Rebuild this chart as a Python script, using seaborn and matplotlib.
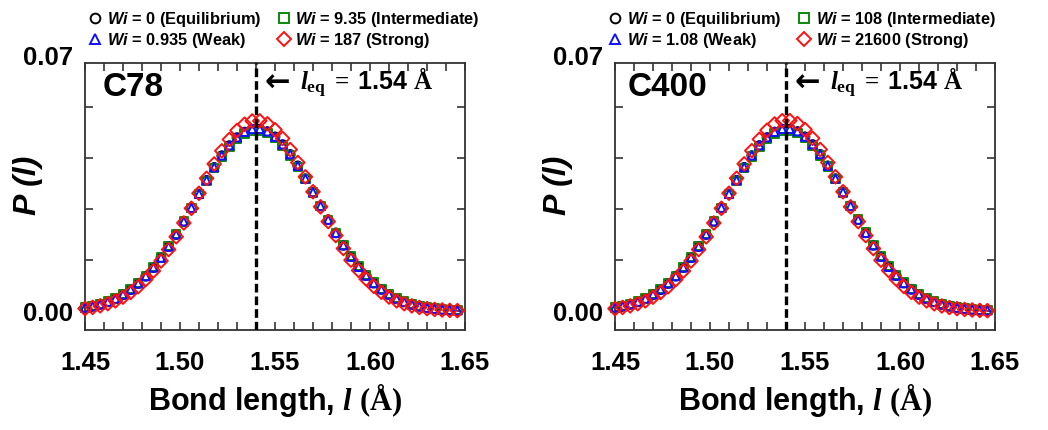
import matplotlib
matplotlib.use("Agg")
import matplotlib.pyplot as plt
import matplotlib.transforms as mtransforms
from matplotlib.lines import Line2D
from matplotlib.ticker import MultipleLocator, FixedLocator
import pandas as pd
import seaborn as sns

# ---------------- data ----------------
bond_length = [1.450, 1.454, 1.458, 1.462, 1.466, 1.470, 1.474, 1.478, 1.482, 1.486,
               1.490, 1.494, 1.498, 1.502, 1.506, 1.510, 1.514, 1.518, 1.522, 1.526,
               1.530, 1.534, 1.538, 1.542, 1.546, 1.550, 1.554, 1.558, 1.562, 1.566,
               1.570, 1.574, 1.578, 1.582, 1.586, 1.590, 1.594, 1.598, 1.602, 1.606,
               1.610, 1.614, 1.618, 1.622, 1.626, 1.630, 1.634, 1.638, 1.642, 1.646]

c78_eq = [0.00093, 0.00132, 0.00184, 0.00252, 0.00339, 0.00450, 0.00588, 0.00756, 0.00957, 0.01193,
          0.01464, 0.01768, 0.02102, 0.02459, 0.02833, 0.03213, 0.03587, 0.03942, 0.04264, 0.04541,
          0.04760, 0.04912, 0.04990, 0.04992, 0.04925, 0.04781, 0.04570, 0.04300, 0.03985, 0.03632,
          0.03262, 0.02884, 0.02508, 0.02146, 0.01806, 0.01495, 0.01217, 0.00975, 0.00769, 0.00597,
          0.00455, 0.00341, 0.00252, 0.00183, 0.00130, 0.00091, 0.00063, 0.00043, 0.00029, 0.00019]
c78_weak = [0.00095, 0.00133, 0.00186, 0.00254, 0.00341, 0.00452, 0.00590, 0.00758, 0.00959, 0.01195,
            0.01466, 0.01770, 0.02104, 0.02462, 0.02836, 0.03217, 0.03592, 0.03948, 0.04271, 0.04549,
            0.04769, 0.04921, 0.04998, 0.05000, 0.04933, 0.04788, 0.04576, 0.04305, 0.03989, 0.03635,
            0.03264, 0.02885, 0.02508, 0.02145, 0.01805, 0.01493, 0.01215, 0.00973, 0.00767, 0.00595,
            0.00453, 0.00339, 0.00250, 0.00182, 0.00129, 0.00090, 0.00062, 0.00042, 0.00028, 0.00019]
c78_mid = [0.00097, 0.00137, 0.00190, 0.00259, 0.00348, 0.00460, 0.00599, 0.00768, 0.00969, 0.01205,
           0.01474, 0.01777, 0.02107, 0.02461, 0.02831, 0.03205, 0.03573, 0.03922, 0.04238, 0.04510,
           0.04725, 0.04874, 0.04950, 0.04952, 0.04886, 0.04745, 0.04538, 0.04273, 0.03963, 0.03617,
           0.03252, 0.02880, 0.02509, 0.02152, 0.01816, 0.01507, 0.01231, 0.00988, 0.00782, 0.00609,
           0.00466, 0.00351, 0.00260, 0.00190, 0.00136, 0.00096, 0.00067, 0.00046, 0.00031, 0.00021]
c78_strong = [0.00069, 0.00101, 0.00144, 0.00203, 0.00281, 0.00382, 0.00511, 0.00671, 0.00868, 0.01102,
              0.01376, 0.01690, 0.02039, 0.02419, 0.02821, 0.03234, 0.03645, 0.04039, 0.04399, 0.04710,
              0.04958, 0.05130, 0.05219, 0.05221, 0.05141, 0.04979, 0.04738, 0.04433, 0.04078, 0.03686,
              0.03276, 0.02862, 0.02457, 0.02073, 0.01718, 0.01398, 0.01118, 0.00879, 0.00678, 0.00515,
              0.00384, 0.00281, 0.00202, 0.00143, 0.00100, 0.00068, 0.00046, 0.00030, 0.00019, 0.00012]

c400_eq = [0.00094, 0.00133, 0.00185, 0.00253, 0.00340, 0.00451, 0.00589, 0.00757, 0.00958, 0.01194,
           0.01465, 0.01769, 0.02103, 0.02460, 0.02834, 0.03214, 0.03589, 0.03944, 0.04266, 0.04543,
           0.04762, 0.04914, 0.04992, 0.04994, 0.04927, 0.04783, 0.04571, 0.04301, 0.03986, 0.03633,
           0.03263, 0.02885, 0.02509, 0.02147, 0.01807, 0.01496, 0.01218, 0.00976, 0.00770, 0.00598,
           0.00456, 0.00342, 0.00253, 0.00184, 0.00131, 0.00092, 0.00064, 0.00044, 0.00030, 0.00020]
c400_weak = [0.00096, 0.00134, 0.00187, 0.00255, 0.00342, 0.00453, 0.00591, 0.00759, 0.00960, 0.01196,
             0.01467, 0.01771, 0.02105, 0.02463, 0.02837, 0.03218, 0.03594, 0.03950, 0.04273, 0.04551,
             0.04771, 0.04923, 0.05000, 0.05002, 0.04935, 0.04790, 0.04578, 0.04306, 0.03990, 0.03636,
             0.03265, 0.02886, 0.02509, 0.02146, 0.01806, 0.01494, 0.01216, 0.00974, 0.00768, 0.00596,
             0.00454, 0.00340, 0.00251, 0.00183, 0.00130, 0.00091, 0.00063, 0.00043, 0.00029, 0.00020]
c400_mid = [0.00098, 0.00138, 0.00191, 0.00260, 0.00349, 0.00461, 0.00600, 0.00769, 0.00970, 0.01206,
            0.01475, 0.01778, 0.02108, 0.02462, 0.02832, 0.03206, 0.03575, 0.03924, 0.04240, 0.04512,
            0.04727, 0.04876, 0.04952, 0.04954, 0.04888, 0.04747, 0.04540, 0.04275, 0.03965, 0.03619,
            0.03254, 0.02882, 0.02511, 0.02153, 0.01817, 0.01508, 0.01232, 0.00989, 0.00783, 0.00610,
            0.00467, 0.00352, 0.00261, 0.00191, 0.00137, 0.00097, 0.00068, 0.00047, 0.00032, 0.00022]
c400_strong = [0.00068, 0.00100, 0.00143, 0.00202, 0.00280, 0.00381, 0.00510, 0.00670, 0.00867, 0.01101,
               0.01375, 0.01689, 0.02038, 0.02418, 0.02821, 0.03235, 0.03647, 0.04042, 0.04403, 0.04715,
               0.04964, 0.05137, 0.05226, 0.05228, 0.05147, 0.04984, 0.04742, 0.04436, 0.04080, 0.03687,
               0.03276, 0.02861, 0.02456, 0.02071, 0.01716, 0.01396, 0.01116, 0.00877, 0.00676, 0.00513,
               0.00382, 0.00279, 0.00200, 0.00141, 0.00098, 0.00067, 0.00045, 0.00029, 0.00018, 0.00011]

regimes = ["Equilibrium", "Weak", "Intermediate", "Strong"]
wi_c78 = ["0", "0.935", "9.35", "187"]
wi_c400 = ["0", "1.08", "108", "21600"]
panel_names = ["C78", "C400"]
l_eq = 1.54

x_major = [1.45, 1.50, 1.55, 1.60, 1.65]
y_ticks = [0.0, 0.014, 0.028, 0.042, 0.056]

# ---------------- style ----------------
sns.set_theme(style="ticks")
plt.rcParams["font.family"] = ["Liberation Sans", "DejaVu Sans"]
plt.rcParams["font.weight"] = "bold"
plt.rcParams["text.color"] = "black"
plt.rcParams["axes.labelcolor"] = "black"
plt.rcParams["xtick.labelcolor"] = "black"
plt.rcParams["ytick.labelcolor"] = "black"
plt.rcParams["mathtext.fontset"] = "custom"
plt.rcParams["mathtext.rm"] = "Liberation Serif"
plt.rcParams["mathtext.it"] = "Liberation Serif:italic:bold"
plt.rcParams["mathtext.bf"] = "Liberation Serif:bold"
plt.rcParams["mathtext.sf"] = "Liberation Sans:bold"
plt.rcParams["mathtext.bfit"] = "Liberation Sans:italic:bold"

colors = {"Equilibrium": "black", "Weak": "#1010ff",
          "Intermediate": "#0a8a0a", "Strong": "#ff1010"}
markers = {"Equilibrium": "o", "Weak": "^", "Intermediate": "s", "Strong": "D"}
sizes = {"Equilibrium": 40, "Weak": 36, "Intermediate": 36, "Strong": 48}
draw_order = ["Equilibrium", "Intermediate", "Weak", "Strong"]
spine_col = "#333333"

fig = plt.figure(figsize=(10.48, 4.30), dpi=100)
W, H = 1048.0, 430.0
axes = [fig.add_axes([85 / W, 1 - 330 / H, 380 / W, 267 / H]),
        fig.add_axes([615 / W, 1 - 330 / H, 380 / W, 267 / H])]

panels = [
    (c78_eq, c78_weak, c78_mid, c78_strong, wi_c78),
    (c400_eq, c400_weak, c400_mid, c400_strong, wi_c400),
]

for i, ax in enumerate(axes):
    eq, weak, mid, strong, wis = panels[i]
    frames = []
    for reg, vals in zip(regimes, [eq, weak, mid, strong]):
        frames.append(pd.DataFrame({"l": bond_length, "P": vals, "regime": reg}))
    df = pd.concat(frames, ignore_index=True)

    for z, reg in enumerate(draw_order):
        sub = df[df["regime"] == reg]
        sns.scatterplot(data=sub, x="l", y="P", ax=ax, marker=markers[reg],
                        s=sizes[reg], facecolor="none", edgecolor=colors[reg],
                        linewidth=1.4, legend=False, clip_on=False, zorder=3 + z)

    ax.axvline(l_eq, color="black", lw=2.4, ls=(0, (2.6, 1.2)), zorder=10)

    ax.set_xlim(1.45, 1.65)
    ax.set_ylim(-0.0052, 0.0681)
    ax.xaxis.set_major_locator(FixedLocator(x_major))
    ax.xaxis.set_minor_locator(MultipleLocator(0.01))
    ax.set_xticklabels([f"{v:.2f}" for v in x_major])
    ax.yaxis.set_major_locator(FixedLocator(y_ticks))
    ax.set_yticklabels(["0.00", "", "", "", ""])
    ax.tick_params(which="both", direction="in", top=True, right=True,
                   length=6, width=1.2, color=spine_col)
    ax.tick_params(axis="x", which="major", labelsize=18.5, pad=15)
    ax.tick_params(axis="y", which="major", labelsize=18.5, pad=9)
    for lab in ax.get_xticklabels() + ax.get_yticklabels():
        lab.set_fontweight("bold")
    for sp in ax.spines.values():
        sp.set_color(spine_col)
        sp.set_linewidth(1.3)

    trans = mtransforms.blended_transform_factory(ax.transAxes, ax.transData)
    ax.text(-0.031, 0.0694, "0.07", transform=trans, ha="right", va="center",
            fontsize=18.5, fontweight="bold", clip_on=False)

    ax.set_xlabel(r"Bond length, $\mathit{l}$ $\mathrm{(Å)}$", fontsize=22,
                  fontweight="bold")
    ax.xaxis.set_label_coords(0.5, -0.195)
    ax.set_ylabel("P (l)", fontsize=23, fontweight="bold", fontstyle="italic")
    ax.yaxis.set_label_coords(-0.11, 0.54)

    ax.text(0.047 if i == 0 else 0.034, 0.91, panel_names[i], transform=ax.transAxes,
            ha="left", va="center", fontsize=24, fontweight="bold")
    ax.text(0.472, 0.925, "\u2190", transform=ax.transAxes, ha="left", va="center",
            fontsize=22, fontweight="bold", family="DejaVu Sans")
    ax.text(0.565, 0.925, r"$\mathit{l}_{\mathbf{eq}}\;=\;\mathsf{1.54}\ \mathbf{Å}$",
            transform=ax.transAxes, ha="left", va="center", fontsize=18)

    handles = [Line2D([], [], ls="none", marker=markers[r], ms=7 if r != "Strong" else 7.5,
                      mfc="none", mec=colors[r], mew=1.4) for r in regimes]
    labels = [rf"$\mathbfit{{Wi}}$ = {w} ({r})" for w, r in zip(wis, regimes)]
    ax.legend(handles, labels, ncol=2, frameon=False,
              loc="lower left",
              bbox_to_anchor=(0.009 if i == 0 else -0.017, 1.05),
              borderaxespad=0, borderpad=0, handlelength=0.8,
              handletextpad=0.33, columnspacing=0.95, labelspacing=0.12,
              prop={"family": "Liberation Sans", "weight": "bold", "size": 11.8})

fig.savefig("out.png", dpi=100)
